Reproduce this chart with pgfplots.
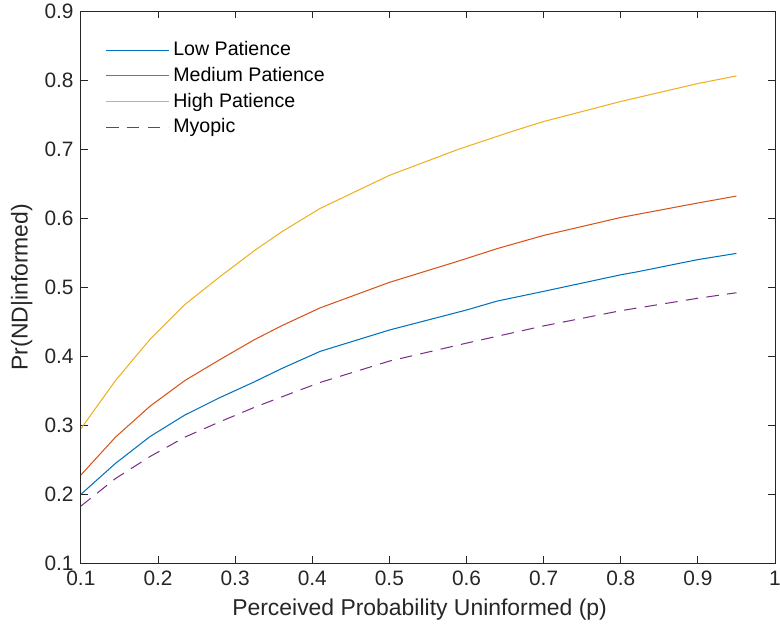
\documentclass[border=0pt]{standalone}
\usepackage{pgfplots}
\pgfplotsset{compat=1.18}
\usepackage{fontspec}
\setmainfont{Liberation Sans}
\definecolor{mblue}{rgb}{0,0.447,0.741}
\definecolor{morange}{rgb}{0.85,0.325,0.098}
\definecolor{myellow}{rgb}{0.929,0.694,0.125}
\definecolor{mpurple}{rgb}{0.494,0.184,0.556}
\definecolor{maxis}{rgb}{0.15,0.15,0.15}
\begin{document}
\begin{tikzpicture}
\begin{axis}[
  scale only axis,
  width=333pt, height=265pt,
  xmin=0.1, xmax=1, ymin=0.1, ymax=0.9,
  xtick={0.1,0.2,...,1.0}, ytick={0.1,0.2,...,0.9},
  xticklabels={0.1,0.2,0.3,0.4,0.5,0.6,0.7,0.8,0.9,1},
  yticklabels={0.1,0.2,0.3,0.4,0.5,0.6,0.7,0.8,0.9},
  tick align=inside, tick pos=both,
  major tick length=3.4pt,
  axis line style={maxis, line width=0.4pt},
  every tick/.style={maxis, line width=0.4pt},
  tick label style={font=\fontsize{10}{12}\selectfont, text=maxis},
  label style={font=\fontsize{11}{13}\selectfont, text=maxis},
  xlabel={Perceived Probability Uninformed (p)},
  ylabel={Pr(ND|informed)},
  xlabel style={at={(axis description cs:0.488,-0.083)}, anchor=center},
  ylabel style={at={(axis description cs:-0.085,0.5)}, anchor=center},
  legend style={draw=none, fill=none, at={(0.035,0.953)}, anchor=north west,
    font=\fontsize{9.4}{11}\selectfont, row sep=0pt, inner sep=0pt},
  legend cell align=left,
  legend image code/.code={\draw[#1] (0pt,0pt) -- (30pt,0pt);},
]
\addplot[mblue, line width=0.5pt] coordinates {
(0.1,0.200)(0.145,0.245)(0.19,0.284)(0.235,0.315)(0.28,0.340)(0.325,0.363)
(0.36,0.382)(0.41,0.407)(0.5,0.438)(0.6,0.467)(0.64,0.480)(0.7,0.494)
(0.8,0.518)(0.82,0.522)(0.9,0.540)(0.95,0.549)};
\addlegendentry{Low Patience}
\addplot[morange, line width=0.5pt] coordinates {
(0.1,0.228)(0.145,0.283)(0.19,0.328)(0.235,0.365)(0.28,0.395)(0.325,0.424)
(0.36,0.444)(0.41,0.470)(0.5,0.507)(0.59,0.538)(0.64,0.556)(0.7,0.575)
(0.8,0.601)(0.9,0.622)(0.95,0.632)};
\addlegendentry{Medium Patience}
\addplot[myellow, line width=0.5pt] coordinates {
(0.1,0.295)(0.145,0.365)(0.19,0.425)(0.235,0.475)(0.28,0.515)(0.325,0.553)
(0.36,0.580)(0.41,0.614)(0.5,0.662)(0.59,0.700)(0.66,0.726)(0.7,0.740)
(0.8,0.769)(0.9,0.795)(0.95,0.806)};
\addlegendentry{High Patience}
\addplot[mpurple, line width=0.5pt, dash pattern=on 6pt off 4pt] coordinates {
(0.1,0.183)(0.145,0.223)(0.19,0.255)(0.235,0.283)(0.28,0.305)(0.325,0.326)
(0.36,0.341)(0.41,0.362)(0.5,0.393)(0.6,0.419)(0.7,0.444)(0.8,0.466)
(0.9,0.484)(0.95,0.492)};
\addlegendentry{Myopic}
\path (rel axis cs:0,0) coordinate (bl) (rel axis cs:1,1) coordinate (tr);
\end{axis}
\pgfresetboundingbox
\path ([xshift=-38.8pt,yshift=-34pt]bl) rectangle ([xshift=2.4pt,yshift=5.3pt]tr);
\end{tikzpicture}
\end{document}
